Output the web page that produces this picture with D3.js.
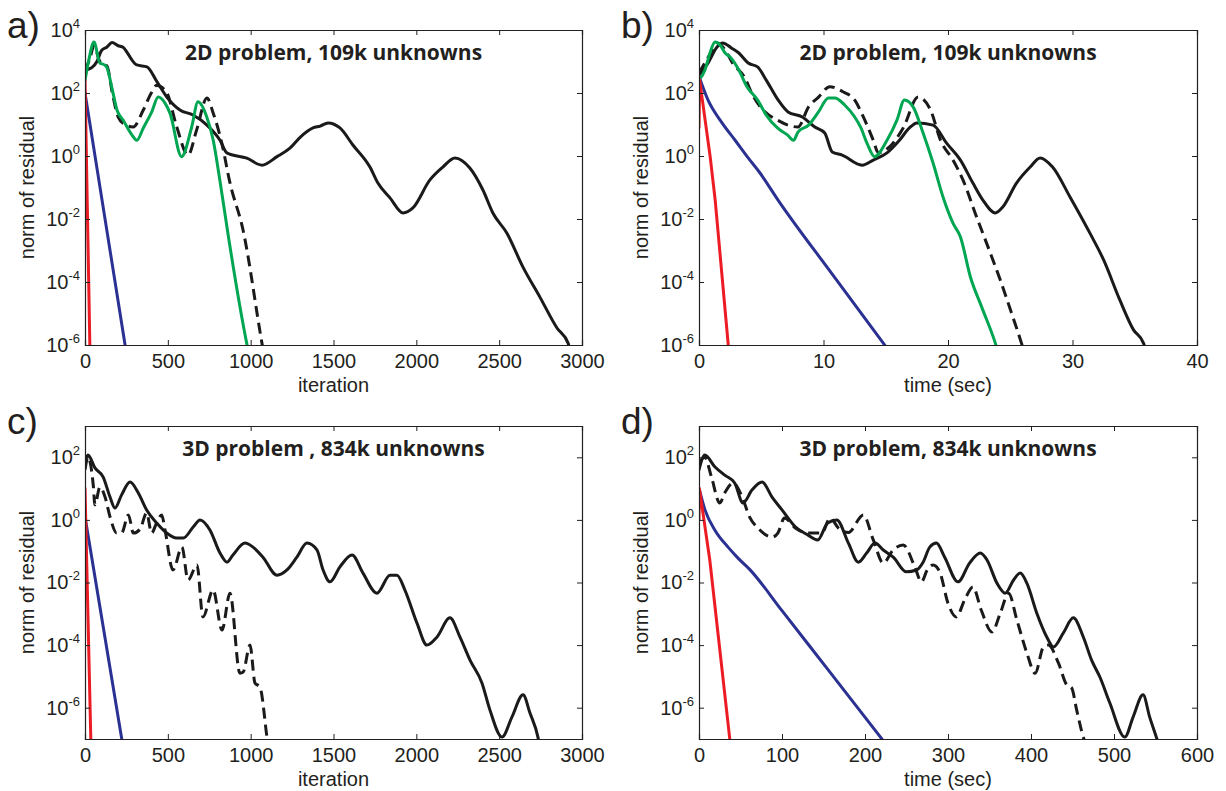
<!DOCTYPE html>
<html>
<head>
<meta charset="utf-8">
<script src="https://cdn.jsdelivr.net/npm/d3@7"></script>
<style>
  html, body { margin: 0; padding: 0; background: #fff; }
  svg { display: block; }
</style>
</head>
<body>
<svg id="chart" width="1226" height="791"></svg>
<script>
// ---------------- DATA (x, log10 of residual norm) ----------------
// Panel a: 2D problem, vs iteration
const a_red   = [[0,2.4],[30,-6.2]];
const a_blue  = [[0,2.0],[245,-6.1]];
const a_green = [[0,2.4],[25,3.1],[54,3.62],[90,2.95],[115,2.9],[133,2.8],[165,2.1],[193,1.46],[230,1.14],[283,0.67],[313,0.5],[352,0.89],[403,1.4],[442,1.87],[483,1.68],[513,1.36],[583,-0.02],[644,0.92],[682,1.72],[735,1.24],[774,0.5],[815,-0.8],[866,-2.57],[976,-5.94],[990,-6.3]];
const a_dash  = [[0,2.7],[30,3.1],[54,3.5],[90,3.0],[133,2.85],[165,2.0],[200,1.24],[240,1.0],[290,0.92],[352,1.46],[400,2.0],[433,2.25],[494,2.0],[554,0.92],[622,0.03],[674,0.83],[736,1.84],[774,1.36],[826,0.4],[875,-0.85],[954,-2.35],[1068,-5.94],[1080,-6.3]];
const a_black = [[0,2.73],[40,2.8],[72,3.0],[100,3.35],[133,3.46],[163,3.6],[200,3.5],[230,3.45],[253,3.3],[283,3.05],[313,2.89],[374,2.83],[434,2.36],[494,1.87],[573,1.46],[652,1.3],[736,0.98],[815,0.5],[856,0.1],[977,-0.07],[1068,-0.29],[1159,-0.02],[1237,0.25],[1300,0.6],[1376,0.89],[1420,0.95],[1467,1.05],[1539,0.89],[1617,0.35],[1720,-0.35],[1768,-0.86],[1841,-1.33],[1920,-1.81],[1979,-1.65],[2082,-0.76],[2160,-0.35],[2233,-0.06],[2323,-0.38],[2402,-1.08],[2462,-1.81],[2547,-2.45],[2643,-3.52],[2746,-4.48],[2849,-5.46],[2916,-5.94],[2930,-6.2]];

// Panel b: 2D problem, vs time (sec)
const b_red   = [[0,0.9],[0.05,2.41],[0.9,-0.03],[1.3,-1.4],[2.35,-6.0],[2.4,-6.2]];
const b_blue  = [[0.1,2.41],[0.72,1.78],[1.85,1.05],[2.9,0.5],[3.95,-0.06],[4.9,-0.54],[6.35,-1.4],[10.7,-3.75],[15.1,-6.1]];
const b_green = [[0,2.41],[0.48,2.73],[0.88,3.27],[1.29,3.62],[1.7,3.52],[2.1,3.27],[2.5,3.14],[3.2,2.73],[3.85,2.2],[4.7,1.78],[5.4,1.3],[6.3,0.89],[7.1,0.67],[7.6,0.5],[7.95,0.76],[8.8,0.98],[9.6,1.4],[10.4,1.84],[10.9,1.84],[11.7,1.62],[12.5,1.24],[13.0,0.9],[13.5,0.4],[14.1,-0.02],[15.1,0.5],[15.9,1.14],[16.5,1.78],[17.2,1.56],[18.0,0.73],[18.8,-0.22],[19.6,-1.3],[20.4,-2.13],[21.0,-2.57],[21.8,-3.84],[22.7,-4.79],[23.8,-5.94],[24.0,-6.2]];
const b_dash  = [[0,2.63],[1.0,3.3],[1.5,3.59],[2.2,3.3],[2.7,2.95],[3.7,2.47],[4.3,1.94],[5.3,1.4],[6.3,1.14],[7.15,0.98],[7.95,0.92],[8.8,1.56],[9.6,1.87],[10.5,2.2],[11.6,2.03],[12.5,1.78],[13.2,1.24],[14.0,0.5],[14.4,0.1],[15.3,0.29],[16.4,0.89],[17.6,1.87],[18.6,1.46],[19.4,0.5],[20.4,-0.13],[21.2,-0.76],[22.3,-1.94],[23.4,-3.08],[24.2,-3.94],[25.2,-5.1],[25.9,-5.94],[26.1,-6.2]];
const b_black = [[0,2.57],[0.72,2.95],[1.45,3.46],[1.9,3.59],[2.6,3.43],[3.2,3.27],[3.95,2.95],[4.7,2.83],[5.4,2.41],[6.35,1.78],[7.15,1.4],[8.3,1.24],[9.3,0.92],[10.1,0.73],[10.7,0.13],[11.5,0.03],[13.1,-0.29],[14.0,-0.13],[15.1,0.1],[16.1,0.5],[16.9,0.89],[17.5,1.05],[18.8,0.98],[19.9,0.4],[21.0,-0.13],[22.0,-0.86],[22.8,-1.4],[23.8,-1.81],[24.4,-1.62],[25.5,-0.86],[26.6,-0.35],[27.4,-0.06],[28.4,-0.35],[29.8,-1.3],[31.4,-2.45],[32.5,-3.3],[33.8,-4.57],[34.9,-5.52],[35.7,-5.94],[35.9,-6.2]];

// Panel c: 3D problem, vs iteration
const c_red   = [[0,1.0],[36,-7.2]];
const c_blue  = [[0,0.1],[225,-7.1]];
const c_black = [[0,1.82],[18,2.07],[60,1.66],[110,1.37],[151,0.73],[181,0.38],[221,0.8],[272,1.21],[322,0.86],[372,0.32],[433,-0.1],[493,-0.42],[553,-0.58],[593,-0.58],[654,-0.22],[694,0.0],[754,-0.32],[815,-1.06],[857,-1.35],[893,-1.12],[966,-0.74],[1014,-0.87],[1074,-1.19],[1159,-1.77],[1219,-1.6],[1279,-1.19],[1340,-0.74],[1400,-0.96],[1437,-1.6],[1479,-1.98],[1539,-1.5],[1612,-1.12],[1678,-1.7],[1762,-2.34],[1841,-1.77],[1883,-1.77],[1931,-2.24],[2004,-3.3],[2064,-4.0],[2125,-3.74],[2203,-3.13],[2263,-3.74],[2324,-4.48],[2396,-5.21],[2444,-6.07],[2517,-6.94],[2577,-6.3],[2644,-5.59],[2686,-6.17],[2734,-6.94],[2740,-7.1]];
const c_dash  = [[0,1.6],[18,2.0],[50,1.1],[60,0.48],[90,1.05],[121,0.73],[151,0.1],[191,-0.42],[221,-0.42],[262,0.16],[292,-0.42],[332,-0.3],[372,0.22],[402,-0.42],[432,-0.1],[463,0.16],[483,-0.32],[531,-1.6],[585,-0.87],[622,-1.92],[676,-1.44],[712,-3.1],[773,-2.24],[827,-3.52],[875,-2.34],[935,-4.9],[954,-4.87],[996,-4.0],[1026,-5.21],[1056,-5.34],[1098,-6.94],[1102,-7.1]];

// Panel d: 3D problem, vs time (sec)
const d_red   = [[0,0.0],[0.5,1.0],[13,-1.28],[37.5,-7.1]];
const d_blue  = [[0.5,0.96],[7.2,0.32],[19,-0.32],[35,-0.87],[47,-1.22],[61,-1.58],[100,-2.9],[140,-4.26],[180,-5.62],[221,-7.02]];
const d_black = [[0,1.6],[7,2.07],[19,1.7],[31,1.43],[43,1.18],[53,0.54],[64,0.96],[76,1.21],[88,0.73],[100,0.32],[116,-0.22],[131,-0.48],[143,-0.64],[155,-0.1],[166,0.0],[180,-0.74],[192,-1.35],[202,-1.06],[212,-0.74],[222,-0.96],[234,-1.19],[250,-1.66],[262,-1.6],[270,-1.35],[278,-0.87],[286,-0.74],[296,-1.19],[312,-1.98],[326,-1.38],[339,-1.06],[347,-1.28],[359,-2.02],[369,-2.34],[379,-1.92],[387,-1.7],[395,-2.02],[407,-2.98],[419,-3.74],[427,-4.06],[439,-3.61],[451,-3.13],[463,-3.74],[473,-4.48],[483,-5.02],[495,-5.85],[513,-6.94],[523,-6.3],[535,-5.59],[543,-6.3],[551,-6.94],[553,-7.1]];
const d_dash  = [[0,1.82],[7,2.0],[15,1.37],[25,0.54],[31,0.86],[41,1.18],[52,0.73],[61,0.09],[71,-0.26],[88,-0.55],[95,-0.42],[103,0.06],[116,-0.26],[131,-0.42],[148,-0.42],[158,0.06],[168,-0.26],[180,-0.4],[198,0.16],[210,-0.64],[222,-1.38],[234,-0.96],[246,-0.8],[260,-1.5],[268,-1.98],[275,-1.6],[282,-1.44],[290,-1.66],[300,-2.66],[310,-3.1],[320,-2.56],[330,-2.14],[340,-2.88],[353,-3.58],[363,-2.98],[373,-2.34],[383,-3.2],[395,-4.25],[405,-4.9],[415,-4.06],[421,-4.0],[433,-4.57],[443,-5.27],[449,-5.37],[455,-6.07],[463,-6.94],[465,-7.1]];

// Axis tick values / labels
const xTicksIter = [0,500,1000,1500,2000,2500,3000];
const xTicksTime2D = [0,10,20,30,40];
const xTicksTime3D = [0,100,200,300,400,500,600];
const yExp2D = [4,2,0,-2,-4,-6];
const yExp3D = [2,0,-2,-4,-6];
const titles = ["2D problem, 109k unknowns","2D problem, 109k unknowns","3D problem , 834k unknowns","3D problem, 834k unknowns"];
const panelLetters = ["a)","b)","c)","d)"];
const xLabels = ["iteration","time (sec)","iteration","time (sec)"];
const yLabel = "norm of residual";

// ---------------- STYLES ----------------
const COL = { red:"#ed1c24", blue:"#2b3192", green:"#00a651", black:"#1a1a1a" };
const FONT = "'Liberation Sans', Arial, Helvetica, sans-serif";
const TFONT = "'Open Sans', 'Noto Sans', sans-serif";

// series entries: [data, colour, dashed, smooth]
const panels = [
  { box:{l:85,t:30,r:582,b:345}, xd:[0,3000], yd:[-6,4], xt:xTicksIter, ye:yExp2D,
    series:[[a_black,"black",false,true],[a_dash,"black",true,true],[a_green,"green",false,true],[a_blue,"blue",false,false],[a_red,"red",false,false]] },
  { box:{l:699,t:30,r:1197,b:345}, xd:[0,40], yd:[-6,4], xt:xTicksTime2D, ye:yExp2D,
    series:[[b_black,"black",false,true],[b_dash,"black",true,true],[b_green,"green",false,true],[b_blue,"blue",false,true],[b_red,"red",false,false]] },
  { box:{l:85,t:426,r:582,b:739}, xd:[0,3000], yd:[-7,3], xt:xTicksIter, ye:yExp3D,
    series:[[c_black,"black",false,true],[c_dash,"black",true,true],[c_blue,"blue",false,false],[c_red,"red",false,false]] },
  { box:{l:699,t:426,r:1197,b:739}, xd:[0,600], yd:[-7,3], xt:xTicksTime3D, ye:yExp3D,
    series:[[d_black,"black",false,true],[d_dash,"black",true,true],[d_blue,"blue",false,true],[d_red,"red",false,false]] }
];

const svg = d3.select("#chart");
const defs = svg.append("defs");

panels.forEach((p, i) => {
  const {l,t,r,b} = p.box;
  const x = d3.scaleLinear().domain(p.xd).range([l, r]);
  const y = d3.scaleLog().domain([Math.pow(10,p.yd[0]), Math.pow(10,p.yd[1])]).range([b, t]);
  const g = svg.append("g");

  const clipId = "clip" + i;
  defs.append("clipPath").attr("id", clipId)
    .append("rect").attr("x", l).attr("y", t).attr("width", r - l).attr("height", b - t);

  const lineSmooth = d3.line().curve(d3.curveMonotoneX)
    .x(d => x(d[0])).y(d => y(Math.pow(10, d[1])));
  const lineStraight = d3.line()
    .x(d => x(d[0])).y(d => y(Math.pow(10, d[1])));
  const lg = g.append("g").attr("clip-path", `url(#${clipId})`);
  p.series.forEach(([data, c, dashed, smooth]) => {
    lg.append("path").datum(data)
      .attr("d", smooth ? lineSmooth : lineStraight)
      .attr("fill", "none")
      .attr("stroke", COL[c])
      .attr("stroke-width", 3)
      .attr("stroke-linejoin", "round")
      .attr("stroke-linecap", dashed ? "butt" : "round")
      .attr("stroke-dasharray", dashed ? "11,6" : null);
  });

  // axes (MATLAB box style, inward ticks)
  const tl = 5;
  const yTickVals = p.ye.map(e => Math.pow(10, e));
  const axB = d3.axisBottom(x).tickValues(p.xt).tickSize(-tl).tickPadding(9).tickFormat(d3.format("d"));
  const axT = d3.axisTop(x).tickValues(p.xt).tickSize(-tl).tickFormat("");
  const axL = d3.axisLeft(y).tickValues(yTickVals).tickSize(-tl).tickPadding(10).tickFormat("");
  const axR = d3.axisRight(y).tickValues(yTickVals).tickSize(-tl).tickFormat("");

  const gB = g.append("g").attr("transform", `translate(0,${b})`).call(axB);
  g.append("g").attr("transform", `translate(0,${t})`).call(axT);
  const gL = g.append("g").attr("transform", `translate(${l},0)`).call(axL);
  g.append("g").attr("transform", `translate(${r},0)`).call(axR);

  g.selectAll(".domain").attr("stroke", "#231f20").attr("stroke-width", 1.2);
  g.selectAll(".tick line").attr("stroke", "#231f20").attr("stroke-width", 1);

  gB.selectAll(".tick text")
    .attr("font-family", FONT).attr("font-size", 20).attr("fill", "#231f20");

  // y tick labels with superscripts
  gL.selectAll(".tick").each(function(d) {
    const txt = d3.select(this).select("text");
    txt.text(null)
      .attr("x", -5).attr("dy", "0.32em")
      .attr("font-family", FONT).attr("font-size", 20).attr("fill", "#231f20")
      .attr("text-anchor", "end");
    txt.append("tspan").text("10");
    txt.append("tspan").attr("dy", -9).attr("font-size", 13)
      .text(String(Math.round(Math.log10(d))));
  });

  // title
  g.append("text")
    .attr("x", (l + r) / 2).attr("y", t + 30)
    .attr("text-anchor", "middle")
    .attr("font-family", TFONT).attr("font-weight", 700).attr("font-size", 21)
    .attr("fill", "#231f20")
    .text(titles[i]);

  // x label
  g.append("text")
    .attr("x", (l + r) / 2).attr("y", b + 47)
    .attr("text-anchor", "middle")
    .attr("font-family", FONT).attr("font-size", 20).attr("fill", "#231f20")
    .text(xLabels[i]);

  // y label
  g.append("text")
    .attr("transform", `translate(${l - 51},${(t + b) / 2}) rotate(-90)`)
    .attr("text-anchor", "middle")
    .attr("font-family", FONT).attr("font-size", 20).attr("fill", "#231f20")
    .text(yLabel);

  // panel letter
  g.append("text")
    .attr("x", l - 78).attr("y", t + 8)
    .attr("font-family", FONT).attr("font-size", 37).attr("fill", "#231f20")
    .text(panelLetters[i]);
});
</script>
</body>
</html>
